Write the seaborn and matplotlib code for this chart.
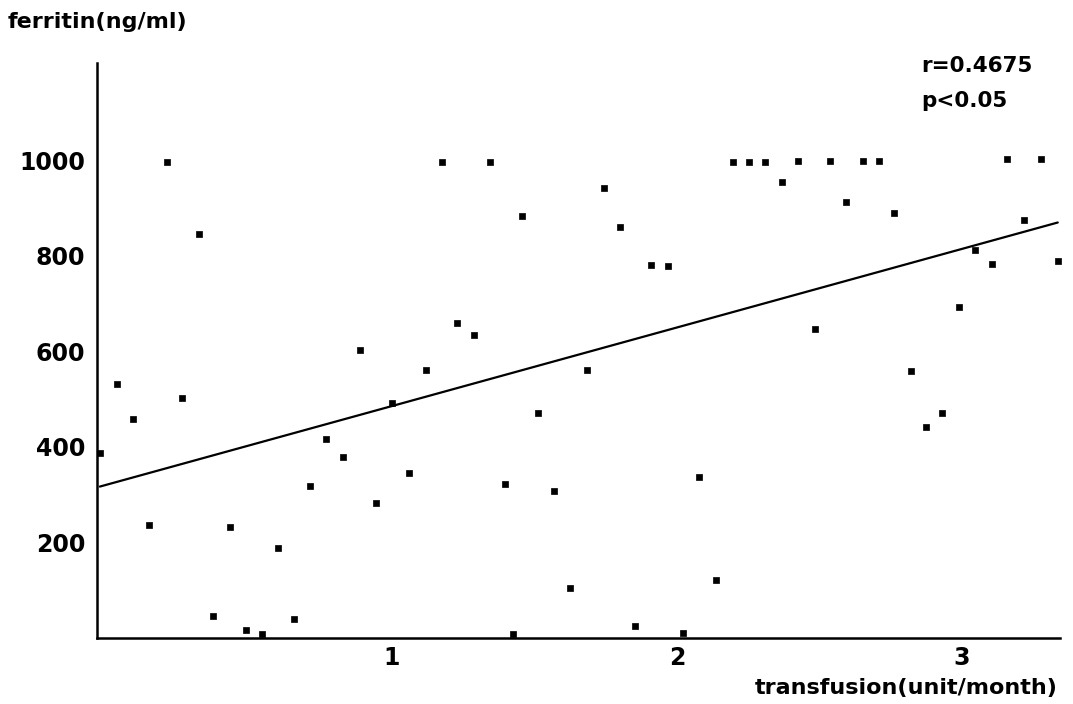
import numpy as np
import pandas as pd
import seaborn as sns
import matplotlib.pyplot as plt

# transfusion (unit/month) vs ferritin (ng/ml)
transfusion = [0.209, 0.322, 0.888, 0.036, 0.263, 0.090, -0.025, 0.768, 0.827, 0.999,
               1.059, 0.712, 0.944, 0.146, 0.432, 0.600, 0.373, 0.488, 0.544, 0.655,
               1.175, 1.343, 1.743, 1.457, 1.799, 1.910, 1.967, 1.229, 1.287, 1.118,
               1.685, 1.511, 1.397, 1.568, 1.626, 1.854, 2.021, 1.425, 2.078, 2.136,
               2.195, 2.254, 2.310, 2.426, 2.537, 2.652, 2.708, 3.159, 3.276, 2.367,
               2.594, 2.761, 3.219, 3.047, 3.106, 3.336, 2.988, 2.484, 2.820, 2.930,
               2.874]
ferritin = [997, 846, 602, 532, 502, 458, 387, 416, 378, 493,
            346, 318, 283, 236, 232, 188, 45, 16, 8, 40,
            997, 997, 943, 884, 861, 782, 778, 660, 635, 561,
            561, 471, 322, 308, 105, 25, 10, 8, 337, 121,
            997, 997, 997, 999, 999, 999, 999, 1002, 1002, 954,
            912, 889, 875, 813, 784, 790, 693, 646, 560, 471,
            441]

# fitted line end points as drawn in the figure
fit_x = [-0.025, 3.336]
fit_y = [317, 870]

x_ticks = [1, 2, 3]
y_ticks = [200, 400, 600, 800, 1000]

df = pd.DataFrame(dict(transfusion=transfusion, ferritin=ferritin))
fit = pd.DataFrame(dict(transfusion=fit_x, ferritin=fit_y))

sns.set_theme(style="white", rc={"text.color": "black", "xtick.color": "black",
                                 "ytick.color": "black", "axes.edgecolor": "black"})
plt.rcParams["font.family"] = ["DejaVu Sans"]
plt.rcParams["font.weight"] = "bold"

fig = plt.figure(figsize=(10.73, 7.04), dpi=100)
ax = fig.add_axes([0.0904, 0.0938, 0.8975, 0.8167])

sns.scatterplot(data=df, x="transfusion", y="ferritin", ax=ax,
                marker="s", s=18, color="black", edgecolor="black", linewidth=0.5,
                clip_on=False, zorder=3)
sns.lineplot(data=fit, x="transfusion", y="ferritin", ax=ax,
             color="black", linewidth=1.6)

ax.set_xlim(-0.035, 3.344)
ax.set_ylim(0, 1204)
ax.set_xticks(x_ticks)
ax.set_yticks(y_ticks)
ax.set_xlabel("")
ax.set_ylabel("")
ax.tick_params(axis="both", length=0, labelsize=17, labelcolor="black")
ax.tick_params(axis="y", pad=8.5)
ax.tick_params(axis="x", pad=6)
for lab in ax.get_xticklabels() + ax.get_yticklabels():
    lab.set_fontweight("bold")

sns.despine(ax=ax)
for side in ["left", "bottom"]:
    ax.spines[side].set_color("black")
    ax.spines[side].set_linewidth(1.8)

# labels and statistics placed like the original
fig.text(0.007, 0.969, "ferritin(ng/ml)", fontsize=16, fontweight="bold",
         color="black", ha="left", va="center")
fig.text(0.986, 0.023, "transfusion(unit/month)", fontsize=16, fontweight="bold",
         color="black", ha="right", va="center")
fig.text(0.859, 0.906, "r=0.4675", fontsize=15.5, fontweight="bold",
         color="black", ha="left", va="center")
fig.text(0.859, 0.857, "p<0.05", fontsize=15.5, fontweight="bold",
         color="black", ha="left", va="center")

fig.savefig("out.png", dpi=100, facecolor="white")
